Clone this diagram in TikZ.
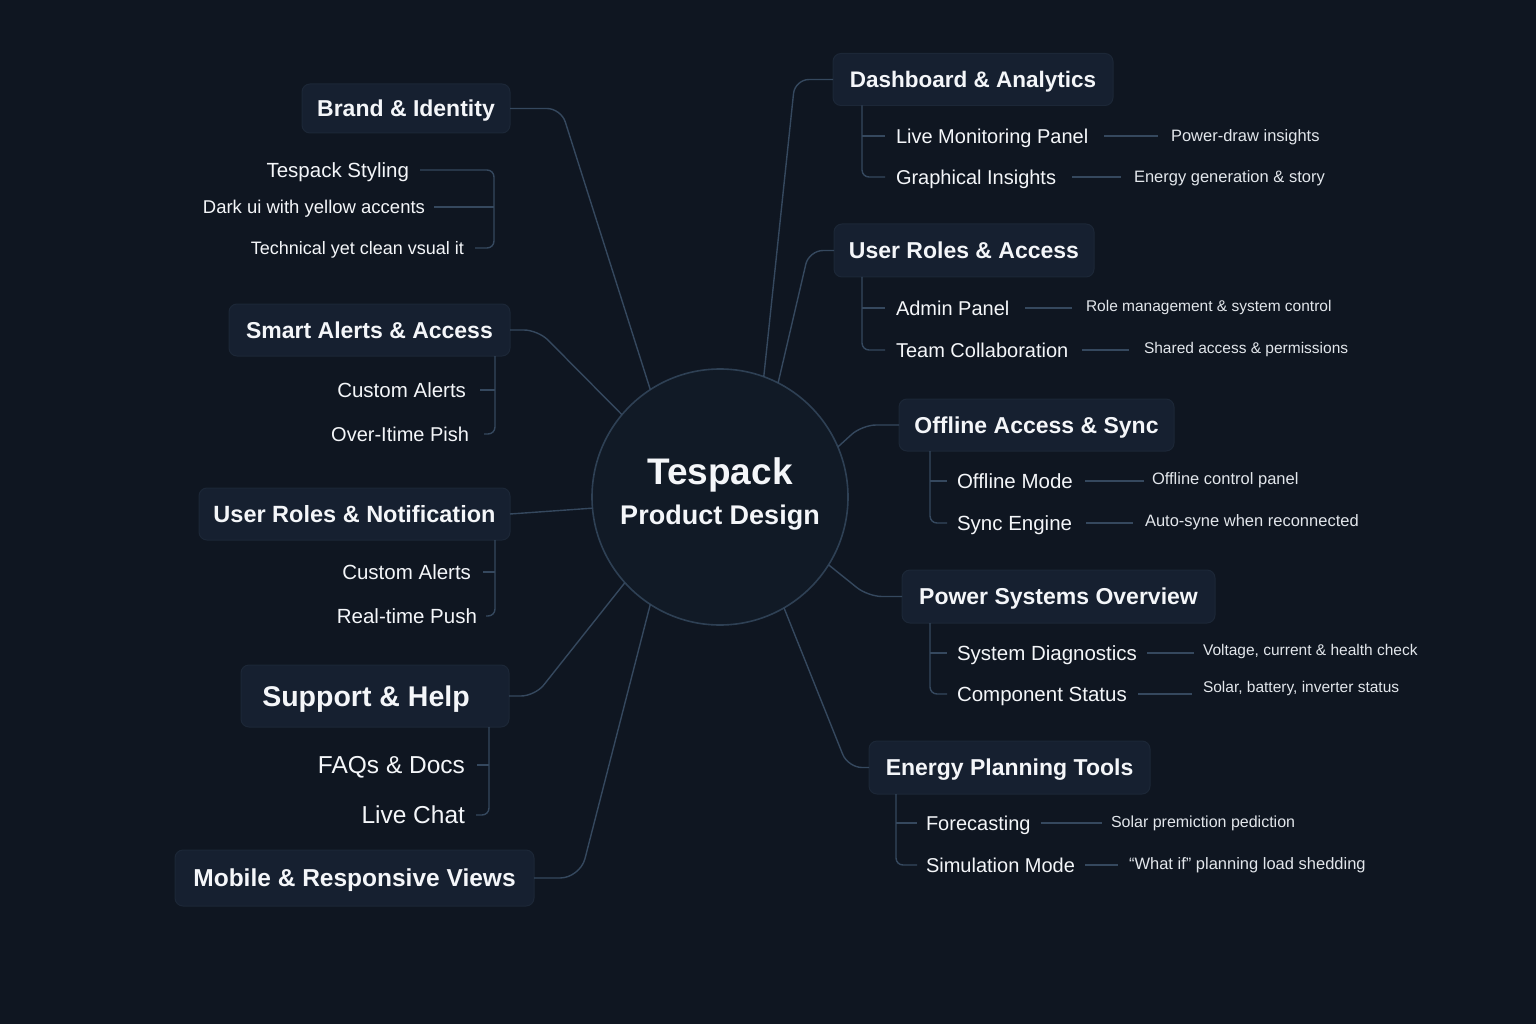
\documentclass[tikz,border=0pt]{standalone}
\usepackage{fontspec}
\setmainfont{Liberation Sans}
\newcommand{\fsz}[1]{\fontsize{#1}{#1}\selectfont}
\definecolor{bgc}{HTML}{0F1621}
\definecolor{boxfill}{HTML}{162030}
\definecolor{boxline}{HTML}{1C2737}
\definecolor{linec}{HTML}{35485E}
\definecolor{circline}{HTML}{2E4054}
\definecolor{circfill}{HTML}{111A26}
\definecolor{txt}{HTML}{F4F6F9}
\definecolor{dtxt}{HTML}{E2E6EB}
\begin{document}
\begin{tikzpicture}[x=1pt,y=-1pt,
  fs/.style={font=\fsz{#1}, text height={0.72*#1pt}, text depth=0pt},
  fsb/.style={font=\fsz{#1}\bfseries, text height={0.72*#1pt}, text depth=0pt},
  hbox/.style={draw=boxline, line width=1pt, fill=boxfill, rounded corners=8pt, inner sep=0pt, outer sep=0pt,
    text=txt, fsb=23},
  sub/.style={inner sep=0pt, outer sep=0pt, text=txt, fs=20},
  desc/.style={inner sep=0pt, outer sep=0pt, text=dtxt, fs=16.5},
  conn/.style={draw=linec, line width=1.4pt, rounded corners=14pt},
  bconn/.style={draw=linec, line width=1.4pt, rounded corners=7pt},
  dconn/.style={draw=linec, line width=1.2pt},
]
\fill[bgc] (0,0) rectangle (1536,1024);
\useasboundingbox (0,0) rectangle (1536,1024);

% centre
\node[circle, draw=circline, fill=circfill, line width=1.6pt, minimum size=256pt, inner sep=0pt, outer sep=0pt] (c) at (720,497) {};
\node[inner sep=0pt, text=txt, fsb=37] (ct1) at (720,471) {Tespack};
\node[inner sep=0pt, text=txt, fsb=27] (ct2) at (720,515) {Product Design};

% ---------------- left side ----------------
\node[hbox, minimum width=208pt, minimum height=49pt] (brand) at (406,108.5) {Brand \& Identity};
\node[sub, anchor=east, fs=20.5] (b1) at (409,170) {Tespack Styling};
\node[sub, anchor=east, fs=18.5] (b2) at (425,207) {Dark ui with yellow accents};
\node[sub, anchor=east, fs=18] (b3) at (464,248) {Technical yet clean vsual it};
\coordinate (bx1) at (494,207);
\draw[bconn] ([xshift=11pt]b1.east) -| (bx1) |- ([xshift=11pt]b3.east);
\draw[bconn] ([xshift=9pt]b2.east) -- (b2.east -| bx1);

\node[hbox, minimum width=281pt, minimum height=52pt] (smart) at (369.5,330) {Smart Alerts \& Access};
\node[sub, anchor=east, fs=20.5] (s1) at (466,390) {Custom Alerts};
\node[sub, anchor=east] (s2) at (469,434) {Over-Itime Pish};
\coordinate (bx2) at (495,390);
\draw[bconn] (smart.south -| bx2) -- (bx2) |- ([xshift=15pt]s2.east);
\draw[bconn] ([xshift=14pt]s1.east) -- (s1.east -| bx2);

\node[hbox, minimum width=311pt, minimum height=52pt, fsb=23.5] (notif) at (354.5,514) {User Roles \& Notification};
\node[sub, anchor=east, fs=20.5] (n1) at (471,572) {Custom Alerts};
\node[sub, anchor=east, fs=20.5] (n2) at (477,616) {Real-time Push};
\coordinate (bx3) at (495,572);
\draw[bconn] (notif.south -| bx3) -- (bx3) |- ([xshift=9pt]n2.east);
\draw[bconn] ([xshift=12pt]n1.east) -- (n1.east -| bx3);

\node[hbox, minimum width=268pt, minimum height=62pt, fsb=28.5] (support) at (375,696) {Support \& Help\hspace*{18pt}};
\node[sub, anchor=east, fs=24.5] (f1) at (465,765) {FAQs \& Docs};
\node[sub, anchor=east, fs=24.5] (f2) at (465,815) {Live Chat};
\coordinate (bx4) at (489,765);
\draw[bconn] (support.south -| bx4) -- (bx4) |- ([xshift=11pt]f2.east);
\draw[bconn] ([xshift=12pt]f1.east) -- (f1.east -| bx4);

\node[hbox, minimum width=359pt, minimum height=56pt, fsb=24.5] (mobile) at (354.5,878) {Mobile \& Responsive Views};

% ---------------- right side ----------------
\node[hbox, minimum width=280pt, minimum height=52pt, fsb=22.5] (dash) at (973,79.5) {Dashboard \& Analytics};
\node[sub, anchor=west] (d1) at (896,136) {Live Monitoring Panel};
\node[sub, anchor=west] (d2) at (896,177) {Graphical Insights};
\node[desc, anchor=west] (dd1) at (1171,136) {Power-draw insights};
\node[desc, anchor=west] (dd2) at (1134,177) {Energy generation \& story};
\coordinate (rx1) at (862,136);
\draw[bconn] (dash.south -| rx1) -- (rx1) |- ([xshift=-11pt]d2.west);
\draw[bconn] (d1.west -| rx1) -- ([xshift=-11pt]d1.west);
\draw[dconn] ([xshift=16pt]d1.east) -- ([xshift=-13pt]dd1.west |- d1.east);
\draw[dconn] ([xshift=16pt]d2.east) -- ([xshift=-13pt]dd2.west |- d2.east);

\node[hbox, minimum width=260pt, minimum height=53pt] (roles) at (964,250.5) {User Roles \& Access};
\node[sub, anchor=west] (r1) at (896,308) {Admin Panel};
\node[sub, anchor=west] (r2) at (896,350) {Team Collaboration};
\node[desc, anchor=west, fs=15.5] (rd1) at (1086,306) {Role management \& system control};
\node[desc, anchor=west, fs=15.5] (rd2) at (1144,348) {Shared access \& permissions};
\coordinate (rx2) at (862,308);
\draw[bconn] (roles.south -| rx2) -- (rx2) |- ([xshift=-11pt]r2.west);
\draw[bconn] (r1.west -| rx2) -- ([xshift=-11pt]r1.west);
\draw[dconn] ([xshift=16pt]r1.east) -- ([xshift=-14pt]rd1.west |- r1.east);
\draw[dconn] ([xshift=14pt]r2.east) -- ([xshift=-15pt]rd2.west |- r2.east);

\node[hbox, minimum width=275pt, minimum height=52pt] (offline) at (1036.5,425) {Offline Access \& Sync};
\node[sub, anchor=west, fs=20.5] (o1) at (957,481) {Offline Mode};
\node[sub, anchor=west, fs=20.5] (o2) at (957,523) {Sync Engine};
\node[desc, anchor=west] (od1) at (1152,479) {Offline control panel};
\node[desc, anchor=west] (od2) at (1145,521) {Auto-syne when reconnected};
\coordinate (rx3) at (930,481);
\draw[bconn] (offline.south -| rx3) -- (rx3) |- ([xshift=-10pt]o2.west);
\draw[bconn] (o1.west -| rx3) -- ([xshift=-10pt]o1.west);
\draw[dconn] ([xshift=12pt]o1.east) -- ([xshift=-8pt]od1.west |- o1.east);
\draw[dconn] ([xshift=14pt]o2.east) -- ([xshift=-12pt]od2.west |- o2.east);

\node[hbox, minimum width=313pt, minimum height=53pt] (power) at (1058.5,596.5) {Power Systems Overview};
\node[sub, anchor=west, fs=20.5] (p1) at (957,653) {System Diagnostics};
\node[sub, anchor=west, fs=20.5] (p2) at (957,694) {Component Status};
\node[desc, anchor=west, fs=15.5] (pd1) at (1203,650) {Voltage, current \& health check};
\node[desc, anchor=west, fs=15.5] (pd2) at (1203,687) {Solar, battery, inverter status};
\coordinate (rx4) at (930,653);
\draw[bconn] (power.south -| rx4) -- (rx4) |- ([xshift=-10pt]p2.west);
\draw[bconn] (p1.west -| rx4) -- ([xshift=-10pt]p1.west);
\draw[dconn] ([xshift=10pt]p1.east) -- ([xshift=-9pt]pd1.west |- p1.east);
\draw[dconn] ([xshift=11pt]p2.east) -- ([xshift=-11pt]pd2.west |- p2.east);

\node[hbox, minimum width=281pt, minimum height=53pt] (energy) at (1009.5,767.5) {Energy Planning Tools};
\node[sub, anchor=west] (e1) at (926,823) {Forecasting};
\node[sub, anchor=west] (e2) at (926,865) {Simulation Mode};
\node[desc, anchor=west, fs=16] (ed1) at (1111,822) {Solar premiction pediction};
\node[desc, anchor=west] (ed2) at (1129,864) {“What if” planning load shedding};
\coordinate (rx5) at (896,823);
\draw[bconn] (energy.south -| rx5) -- (rx5) |- ([xshift=-9pt]e2.west);
\draw[bconn] (e1.west -| rx5) -- ([xshift=-9pt]e1.west);
\draw[dconn] ([xshift=10pt]e1.east) -- ([xshift=-9pt]ed1.west |- e1.east);
\draw[dconn] ([xshift=10pt]e2.east) -- ([xshift=-11pt]ed2.west |- e2.east);

% ---------------- main connectors ----------------
\draw[conn] (brand.east) -- ([xshift=51pt]brand.east) -- (c.123.4);
\draw[conn] (smart.east) -- ([xshift=28pt]smart.east) -- (c.140);
\draw[conn] (notif.east) -- (c.185.8);
\draw[conn] (support.east) -- ([xshift=26pt]support.east) -- (c.222.8);
\draw[conn, rounded corners=20pt] (mobile.east) -- ([xshift=46pt]mobile.east) -- (c.237.7);
\draw[conn] (dash.west) -- ([xshift=-38pt]dash.west) -- (c.70);
\draw[conn] (roles.west) -- ([xshift=-25pt]roles.west) -- (c.63.4);
\draw[conn] (offline.west) -- ([xshift=-37pt]offline.west) -- (c.23.8);
\draw[conn] (power.west) -- ([xshift=-34pt]power.west) -- (c.-32);
\draw[conn] (energy.west) -- ([xshift=-21pt]energy.west) -- (c.-60.9);
\end{tikzpicture}
\end{document}
